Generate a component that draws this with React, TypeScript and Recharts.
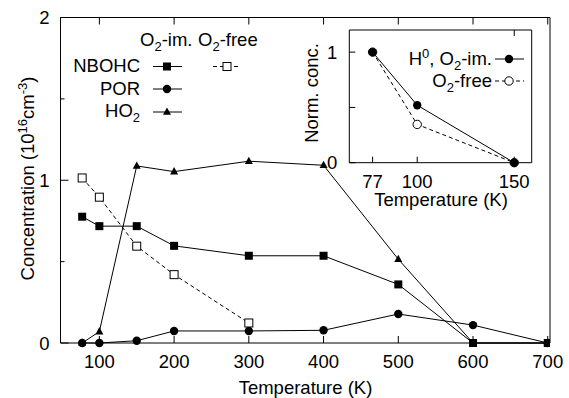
import React from 'react';
import { LineChart, Line, XAxis, YAxis } from 'recharts';

// ---- Main chart data ----
const temps = [77, 100, 150, 200, 300, 400, 500, 600, 700];
const nbohcIm = [0.776, 0.718, 0.718, 0.597, 0.536, 0.536, 0.36, 0, 0];
const nbohcFree: (number | null)[] = [1.014, 0.896, 0.595, 0.42, 0.123, null, null, null, null];
const por = [0, 0, 0.014, 0.074, 0.074, 0.078, 0.178, 0.11, 0];
const ho2 = [0, 0.07, 1.088, 1.053, 1.117, 1.092, 0.515, 0, 0];
const xTicks = [100, 200, 300, 400, 500, 600, 700];
const yTicks = [0, 0.5, 1, 1.5, 2];

// ---- Inset data ----
const insetTemps = [77, 100, 150];
const h0Im = [1, 0.52, 0];
const h0Free = [1, 0.346, 0];
const insetXTicks = [77, 100, 150];
const insetYTicks = [0, 0.5, 1];

const mainData = temps.map((t, i) => ({
  t,
  nbohcIm: nbohcIm[i],
  nbohcFree: nbohcFree[i],
  por: por[i],
  ho2: ho2[i],
}));
const insetData = insetTemps.map((t, i) => ({ t, im: h0Im[i], free: h0Free[i] }));

const FF = '"Liberation Sans", Arial, Helvetica, sans-serif';
const FS = 18.5;
const SUB = 13;
const AX = 10; // axis box size

const ok = (p: any) => typeof p.cx === 'number' && typeof p.cy === 'number' && p.value != null && !Number.isNaN(p.cy);

const FilledSquare = (p: any) =>
  ok(p) ? <rect key={`fs${p.index}`} x={p.cx - 4} y={p.cy - 4} width={8} height={8} fill="#000" /> : <g key={`fs${p.index}`} />;
const OpenSquare = (p: any) =>
  ok(p) ? <rect key={`os${p.index}`} x={p.cx - 4} y={p.cy - 4} width={8} height={8} fill="#fff" stroke="#000" strokeWidth={1} /> : <g key={`os${p.index}`} />;
const FilledCircle = (p: any) =>
  ok(p) ? <circle key={`fc${p.index}`} cx={p.cx} cy={p.cy} r={4.2} fill="#000" /> : <g key={`fc${p.index}`} />;
const OpenCircle = (p: any) =>
  ok(p) ? <circle key={`oc${p.index}`} cx={p.cx} cy={p.cy} r={4.2} fill="#fff" stroke="#000" strokeWidth={1} /> : <g key={`oc${p.index}`} />;
const Triangle = (p: any) =>
  ok(p) ? (
    <polygon key={`tr${p.index}`} points={`${p.cx},${p.cy - 4.5} ${p.cx - 4},${p.cy + 2.8} ${p.cx + 4},${p.cy + 2.8}`} fill="#000" />
  ) : (
    <g key={`tr${p.index}`} />
  );

const mkBottomTick = (len: number, labelDy: number, show = true) => (p: any) => (
  <g>
    <line x1={p.x} y1={p.y} x2={p.x} y2={p.y - len} stroke="#000" />
    {show && (
      <text x={p.x} y={p.y + labelDy} textAnchor="middle" fontSize={FS} fontFamily={FF} fill="#000">
        {p.payload.value}
      </text>
    )}
  </g>
);
const mkTopTick = (len: number) => (p: any) => (
  <g>
    <line x1={p.x} y1={p.y} x2={p.x} y2={p.y + len} stroke="#000" />
  </g>
);
const mkLeftTick = (majorLen: number, minorLen: number, gap: number) => (p: any) => {
  const major = Number.isInteger(p.payload.value);
  return (
    <g>
      <line x1={p.x} y1={p.y} x2={p.x + (major ? majorLen : minorLen)} y2={p.y} stroke="#000" />
      {major && (
        <text x={p.x - gap} y={p.y + 6.5} textAnchor="end" fontSize={FS} fontFamily={FF} fill="#000">
          {p.payload.value}
        </text>
      )}
    </g>
  );
};

const O2 = (rest: string) => [
  <tspan key="a">O</tspan>,
  <tspan key="b" fontSize={SUB} dy={5}>2</tspan>,
  <tspan key="c" dy={-5}>{rest}</tspan>,
];

export default function App() {
  const txt = { fontSize: FS, fontFamily: FF, fill: '#000' } as const;
  return (
    <div style={{ position: 'absolute', left: 0, top: 0, width: 569, height: 398, background: '#fff' }}>
      <div style={{ position: 'absolute', left: 0, top: 0 }}>
        <LineChart
          width={569}
          height={398}
          data={mainData}
          margin={{ top: 17.5 - AX, right: 19 - AX, bottom: 55 - AX, left: 60.5 - AX }}
        >
          <XAxis
            dataKey="t"
            type="number"
            domain={[48, 703]}
            ticks={xTicks}
            height={AX}
            tickSize={0}
            tickMargin={0}
            tickLine={false}
            axisLine={{ stroke: '#000' }}
            tick={mkBottomTick(7, 25)}
            interval={0}
            allowDataOverflow
          />
          <XAxis
            xAxisId="top"
            orientation="top"
            dataKey="t"
            type="number"
            domain={[48, 703]}
            ticks={xTicks}
            height={AX}
            tickSize={0}
            tickMargin={0}
            tickLine={false}
            axisLine={{ stroke: '#000' }}
            tick={mkTopTick(7)}
            interval={0}
            allowDataOverflow
          />
          <YAxis
            type="number"
            domain={[0, 2]}
            ticks={yTicks}
            width={AX}
            tickSize={0}
            tickMargin={0}
            tickLine={false}
            axisLine={{ stroke: '#000' }}
            tick={mkLeftTick(8, 4, 11)}
            interval={0}
          />
          <YAxis
            yAxisId="right"
            orientation="right"
            type="number"
            domain={[0, 2]}
            width={AX}
            tick={false}
            tickLine={false}
            axisLine={{ stroke: '#000' }}
          />
          <Line dataKey="ho2" stroke="#000" strokeWidth={1} dot={Triangle} isAnimationActive={false} />
          <Line dataKey="por" stroke="#000" strokeWidth={1} dot={FilledCircle} isAnimationActive={false} />
          <Line dataKey="nbohcFree" stroke="#000" strokeWidth={1} strokeDasharray="4 3" dot={OpenSquare} isAnimationActive={false} />
          <Line dataKey="nbohcIm" stroke="#000" strokeWidth={1} dot={FilledSquare} isAnimationActive={false} />
        </LineChart>
      </div>

      <div style={{ position: 'absolute', left: 290, top: 10 }}>
        <LineChart
          width={260}
          height={210}
          data={insetData}
          margin={{ top: 20 - AX, right: 18.3 - AX, bottom: 57.3 - AX, left: 59.3 - AX }}
        >
          <XAxis
            dataKey="t"
            type="number"
            domain={[65, 159]}
            ticks={insetXTicks}
            height={AX}
            tickSize={0}
            tickMargin={0}
            tickLine={false}
            axisLine={{ stroke: '#000' }}
            tick={mkBottomTick(6, 25)}
            interval={0}
          />
          <XAxis
            xAxisId="top"
            orientation="top"
            dataKey="t"
            type="number"
            domain={[65, 159]}
            ticks={[150]}
            height={AX}
            tickSize={0}
            tickMargin={0}
            tickLine={false}
            axisLine={{ stroke: '#000' }}
            tick={mkTopTick(6)}
            interval={0}
          />
          <YAxis
            type="number"
            domain={[0, 1.2]}
            ticks={insetYTicks}
            width={AX}
            tickSize={0}
            tickMargin={0}
            tickLine={false}
            axisLine={{ stroke: '#000' }}
            tick={mkLeftTick(6, 6, 12)}
            interval={0}
          />
          <YAxis
            yAxisId="right"
            orientation="right"
            type="number"
            domain={[0, 1.2]}
            width={AX}
            tick={false}
            tickLine={false}
            axisLine={{ stroke: '#000' }}
          />
          <Line dataKey="free" stroke="#000" strokeWidth={1} strokeDasharray="4 3" dot={OpenCircle} isAnimationActive={false} />
          <Line dataKey="im" stroke="#000" strokeWidth={1} dot={FilledCircle} isAnimationActive={false} />
        </LineChart>
      </div>

      <svg width={569} height={398} style={{ position: 'absolute', left: 0, top: 0, pointerEvents: 'none' }}>
        {/* main axis titles */}
        <text x={305.5} y={394} textAnchor="middle" {...txt}>Temperature (K)</text>
        <text x={34} y={178.5} textAnchor="middle" transform="rotate(-90 34 178.5)" {...txt}>
          <tspan>Concentration (10</tspan>
          <tspan fontSize={SUB} dy={-7}>16</tspan>
          <tspan dy={7}>cm</tspan>
          <tspan fontSize={SUB} dy={-7}>-3</tspan>
          <tspan dy={7}>)</tspan>
        </text>

        {/* main legend */}
        <text x={140} y={46} textAnchor="start" {...txt}>{O2('-im.')}</text>
        <text x={198} y={46} textAnchor="start" {...txt}>{O2('-free')}</text>

        <text x={140} y={72} textAnchor="end" {...txt}>NBOHC</text>
        <line x1={153} y1={66.5} x2={182} y2={66.5} stroke="#000" />
        <rect x={163} y={62.5} width={8} height={8} fill="#000" />
        <line x1={213} y1={66.5} x2={240} y2={66.5} stroke="#000" strokeDasharray="4 3" />
        <rect x={223} y={62.5} width={8} height={8} fill="#fff" stroke="#000" />

        <text x={140} y={95} textAnchor="end" {...txt}>POR</text>
        <line x1={153} y1={89} x2={182} y2={89} stroke="#000" />
        <circle cx={167} cy={89} r={4.2} fill="#000" />

        <text x={140} y={117} textAnchor="end" {...txt}>
          <tspan>HO</tspan>
          <tspan fontSize={SUB} dy={5}>2</tspan>
        </text>
        <line x1={153} y1={112} x2={182} y2={112} stroke="#000" />
        <polygon points="167,107.5 163,114.8 171,114.8" fill="#000" />

        {/* inset titles */}
        <text x={441} y={206} textAnchor="middle" {...txt}>Temperature (K)</text>
        <text x={318} y={93} textAnchor="middle" transform="rotate(-90 318 93)" {...txt}>Norm. conc.</text>

        {/* inset legend */}
        <text x={492} y={65} textAnchor="end" {...txt}>
          <tspan>H</tspan>
          <tspan fontSize={SUB} dy={-7}>0</tspan>
          <tspan dy={7}>, O</tspan>
          <tspan fontSize={SUB} dy={5}>2</tspan>
          <tspan dy={-5}>-im.</tspan>
        </text>
        <line x1={495} y1={59} x2={524} y2={59} stroke="#000" />
        <circle cx={509} cy={59} r={4.2} fill="#000" />

        <text x={492} y={87} textAnchor="end" {...txt}>{O2('-free')}</text>
        <line x1={495} y1={81} x2={524} y2={81} stroke="#000" strokeDasharray="4 3" />
        <circle cx={509} cy={81} r={4.2} fill="#fff" stroke="#000" />
      </svg>
    </div>
  );
}
